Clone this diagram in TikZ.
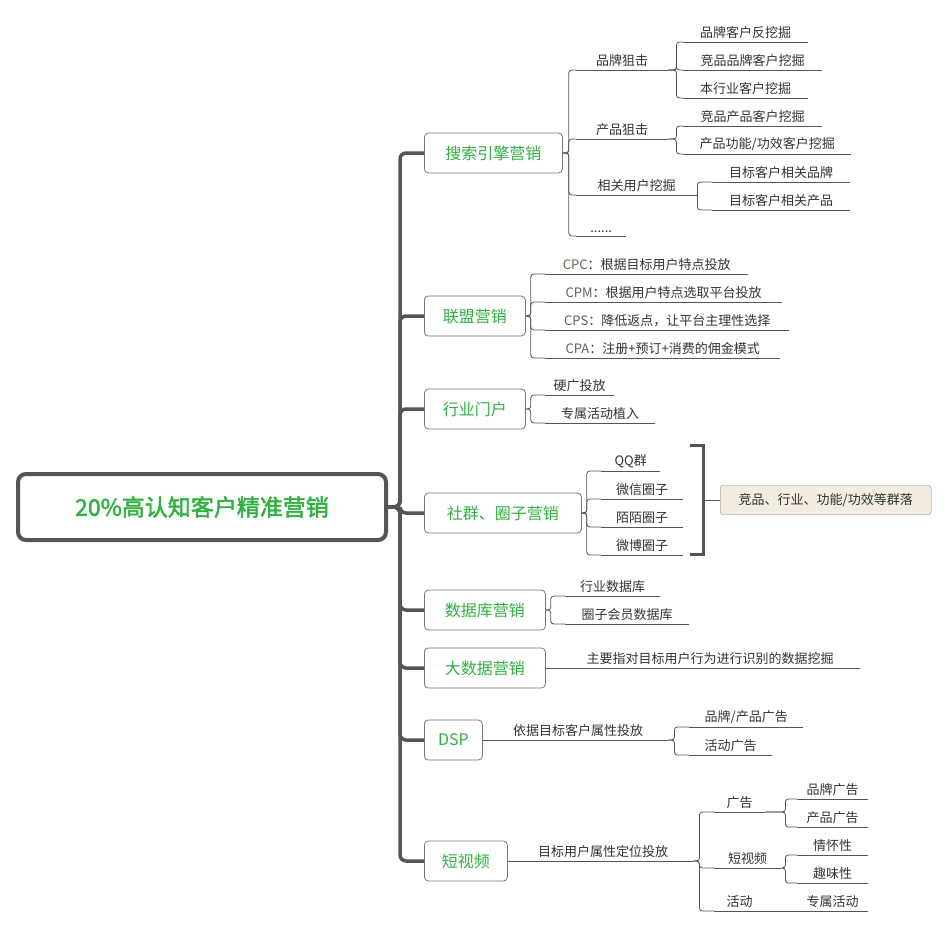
\documentclass[tikz,border=0pt]{standalone}
\usepackage{fontspec}
\setmainfont{Noto Sans CJK SC}[AutoFakeBold=2]
\definecolor{mmgreen}{HTML}{2DB33C}
\definecolor{mmtext}{HTML}{333333}
\definecolor{mmline}{HTML}{555555}
\definecolor{mmnote}{HTML}{F2EDE0}
\begin{document}
\begin{tikzpicture}[x=1pt, y=-1pt,
  root/.style={draw=mmline, line width=4pt, rounded corners=8pt, minimum width=368pt,
    minimum height=66pt, text=mmgreen, font=\fontsize{23}{26}\selectfont\bfseries},
  branch/.style={draw=mmline!80, line width=0.8pt, rounded corners=4pt, anchor=west,
    minimum height=40pt, text=mmgreen, font=\fontsize{16}{18}\selectfont},
  leaf/.style={anchor=south west, inner xsep=0pt, inner ysep=3pt, text=mmtext,
    font=\fontsize{13}{15}\selectfont},
  spine/.style={draw=mmline, line width=3.5pt, rounded corners=6pt},
  conn/.style={draw=mmline, line width=0.8pt, rounded corners=3pt},
  note/.style={draw=mmline!70, fill=mmnote, rounded corners=3pt, anchor=west,
    minimum width=211pt, minimum height=29pt, text=mmtext, font=\fontsize{13}{15}\selectfont}]
  \useasboundingbox (0,0) rectangle (948,926);
  % root and main branches
  \node[root] (root) at (202,507) {20\%高认知客户精准营销};
  \node[branch, minimum width=138pt] (b1) at (424,153) {搜索引擎营销};
  \node[branch, minimum width=101pt] (b2) at (424,316) {联盟营销};
  \node[branch, minimum width=101pt] (b3) at (424,409) {行业门户};
  \node[branch, minimum width=157pt] (b4) at (424,513) {社群、圈子营销};
  \node[branch, minimum width=121pt] (b5) at (424,610) {数据库营销};
  \node[branch, minimum width=121pt] (b6) at (424,668) {大数据营销};
  \node[branch, minimum width=58pt] (b7) at (424,740) {DSP};
  \node[branch, minimum width=83pt] (b8) at (424,861) {短视频};
  \foreach \b in {b1,b2,b3,b4,b5,b6,b7,b8}
    \draw[spine] (root.east) -- ++(12,0) |- (\b.west);
  % search engine
  \node[leaf, minimum width=92pt] (s1) at (576,70) {品牌狙击};
  \node[leaf, minimum width=92pt] (s2) at (576,139) {产品狙击};
  \node[leaf, minimum width=121pt] (s3) at (576,195) {相关用户挖掘};
  \node[leaf, minimum width=50pt] (s4) at (576,236) {......};
  \foreach \c in {s1,s2,s3,s4} \draw[conn] (b1.east) -- ++(6,0) |- (\c.south west);
  \node[leaf, minimum width=125pt] (s11) at (683,42) {品牌客户反挖掘};
  \node[leaf, minimum width=139pt] (s12) at (683,70) {竞品品牌客户挖掘};
  \node[leaf, minimum width=125pt] (s13) at (683,98) {本行业客户挖掘};
  \foreach \c in {s11,s12,s13} \draw[conn] (s1.south east) -- ++(8,0) |- (\c.south west);
  \node[leaf, minimum width=139pt] (s21) at (683,126) {竞品产品客户挖掘};
  \node[leaf, minimum width=168pt] (s22) at (683,154) {产品功能/功效客户挖掘};
  \foreach \c in {s21,s22} \draw[conn] (s2.south east) -- ++(8,0) |- (\c.south west);
  \node[leaf, minimum width=138pt] (s31) at (712,182) {目标客户相关品牌};
  \node[leaf, minimum width=138pt] (s32) at (712,210) {目标客户相关产品};
  \foreach \c in {s31,s32} \draw[conn] (s3.south east) -- ++(0,0) |- (\c.south west);
  % affiliate
  \node[leaf, minimum width=203pt] (a1) at (545,274) {\textcolor{mmline!80!brown}{CPC}：根据目标用户特点投放};
  \node[leaf, minimum width=237pt] (a2) at (545,302) {\textcolor{mmline!80!brown}{CPM}：根据用户特点选取平台投放};
  \node[leaf, minimum width=244pt] (a3) at (545,330) {\textcolor{mmline!80!brown}{CPS}：降低返点，让平台主理性选择};
  \node[leaf, minimum width=235pt] (a4) at (545,358) {\textcolor{mmline!80!brown}{CPA}：注册+预订+消费的佣金模式};
  \foreach \c in {a1,a2,a3,a4} \draw[conn] (b2.east) -- ++(5,0) |- (\c.south west);
  % portal
  \node[leaf, minimum width=69pt] (p1) at (545,395) {硬广投放};
  \node[leaf, minimum width=110pt] (p2) at (545,423) {专属活动植入};
  \foreach \c in {p1,p2} \draw[conn] (b3.east) -- ++(5,0) |- (\c.south west);
  % community
  \node[leaf, minimum width=59pt] (c1) at (601,471) {QQ群};
  \node[leaf, minimum width=82pt] (c2) at (601,499) {微信圈子};
  \node[leaf, minimum width=82pt] (c3) at (601,527) {陌陌圈子};
  \node[leaf, minimum width=82pt] (c4) at (601,555) {微博圈子};
  \foreach \c in {c1,c2,c3,c4} \draw[conn] (b4.east) -- ++(5,0) |- (\c.south west);
  \coordinate (bt) at (690,445);
  \coordinate (bb) at (690,554);
  \draw[draw=mmline, line width=3pt] (bt) -- ++(13,0) |- (bb);
  \node[note] (n1) at (720,500) {竞品、行业、功能/功效等群落};
  \draw[conn] (n1.west) -- ++(-17,0);
  % database
  \node[leaf, minimum width=95pt] (d1) at (565,596) {行业数据库};
  \node[leaf, minimum width=124pt] (d2) at (565,624) {圈子会员数据库};
  \foreach \c in {d1,d2} \draw[conn] (b5.east) -- ++(5,0) |- (\c.south west);
  % big data
  \node[leaf, minimum width=300pt] (g1) at (560,668) {主要指对目标用户行为进行识别的数据挖掘};
  \draw[conn] (b6.east) -- (g1.south west);
  % DSP
  \node[leaf, minimum width=180pt] (t1) at (488,740) {依据目标客户属性投放};
  \draw[conn] (b7.east) -- (t1.south west);
  \node[leaf, minimum width=114pt] (t11) at (689,727) {品牌/产品广告};
  \node[leaf, minimum width=83pt] (t12) at (689,755) {活动广告};
  \foreach \c in {t11,t12} \draw[conn] (t1.south east) -- ++(6,0) |- (\c.south west);
  % short video
  \node[leaf, minimum width=180pt] (v1) at (513,861) {目标用户属性定位投放};
  \draw[conn] (b8.east) -- (v1.south west);
  \node[leaf, minimum width=51pt] (v11) at (714,812) {广告};
  \node[leaf, minimum width=67pt] (v12) at (714,868) {短视频};
  \node[leaf, minimum width=51pt] (v13) at (714,911) {活动};
  \foreach \c in {v11,v12,v13} \draw[conn] (v1.south east) -- ++(6,0) |- (\c.south west);
  \node[leaf, minimum width=71pt] (v111) at (797,799) {品牌广告};
  \node[leaf, minimum width=71pt] (v112) at (797,827) {产品广告};
  \foreach \c in {v111,v112} \draw[conn] (v11.south east) -- ++(20,0) |- (\c.south west);
  \node[leaf, minimum width=71pt] (v121) at (797,855) {情怀性};
  \node[leaf, minimum width=71pt] (v122) at (797,883) {趣味性};
  \foreach \c in {v121,v122} \draw[conn] (v12.south east) -- ++(4,0) |- (\c.south west);
  \node[leaf, minimum width=71pt] (v131) at (797,911) {专属活动};
  \draw[conn] (v13.south east) -- (v131.south west);
  % underlines
  \foreach \n in {s1,s2,s3,s4,s11,s12,s13,s21,s22,s31,s32,a1,a2,a3,a4,p1,p2,
      c1,c2,c3,c4,d1,d2,g1,t1,t11,t12,v1,v11,v12,v13,v111,v112,v121,v122,v131}
    \draw[draw=mmline, line width=0.8pt] (\n.south west) -- (\n.south east);
\end{tikzpicture}
\end{document}
